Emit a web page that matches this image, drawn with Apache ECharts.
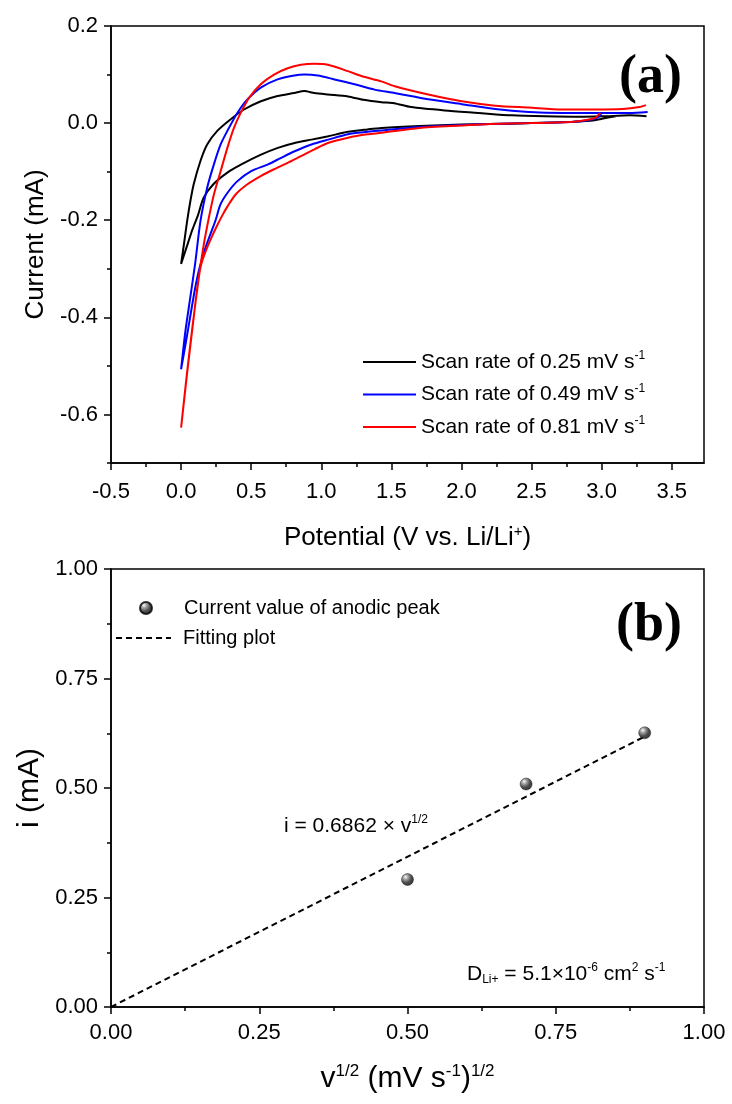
<!DOCTYPE html>
<html>
<head>
<meta charset="utf-8">
<script src="https://cdn.jsdelivr.net/npm/echarts@6/dist/echarts.min.js"></script>
<style>
  html, body { margin: 0; padding: 0; background: #fff; }
  #chart { width: 732px; height: 1104px; }
</style>
</head>
<body>
<div id="chart"></div>
<script>
// ---------- (a) cyclic voltammetry data (potential V, current mA) ----------
const rateLabels = ['0.25', '0.49', '0.81'];
const rateColors = ['#000000', '#0000ff', '#ff0000'];

const potential025 = [3.10, 3.02, 2.95, 2.80, 2.50, 2.20, 2.00, 1.70, 1.43, 1.33, 1.19, 1.05, 0.93, 0.81, 0.69, 0.57, 0.43, 0.33, 0.23, 0.16, 0.12, 0.08, 0.04, 0.00,
  0.02, 0.043, 0.066, 0.09, 0.138, 0.186, 0.258, 0.354, 0.449, 0.569, 0.688, 0.807, 0.878, 0.95, 1.046, 1.19, 1.30, 1.43, 1.52, 1.64, 1.88, 2.12, 2.36, 2.60, 2.84, 3.01, 3.20, 3.32];
const current025 = [0.014, 0.010, 0.006, 0.003, 0.000, -0.002, -0.003, -0.006, -0.010, -0.013, -0.018, -0.027, -0.034, -0.041, -0.051, -0.065, -0.085, -0.102, -0.126, -0.154, -0.190, -0.220, -0.255, -0.290,
  -0.250, -0.202, -0.161, -0.126, -0.078, -0.044, -0.016, 0.008, 0.028, 0.045, 0.056, 0.062, 0.066, 0.062, 0.059, 0.055, 0.048, 0.043, 0.041, 0.033, 0.026, 0.021, 0.016, 0.014, 0.013, 0.014, 0.016, 0.014];

const potential049 = [3.00, 2.96, 2.90, 2.80, 2.50, 2.20, 2.00, 1.70, 1.43, 1.33, 1.19, 1.05, 0.93, 0.81, 0.71, 0.62, 0.50, 0.40, 0.33, 0.28, 0.246, 0.21, 0.17, 0.13, 0.10, 0.07, 0.035, 0.00,
  0.03, 0.065, 0.10, 0.138, 0.186, 0.234, 0.282, 0.33, 0.401, 0.473, 0.568, 0.688, 0.807, 0.879, 0.975, 1.094, 1.237, 1.38, 1.524, 1.763, 2.002, 2.241, 2.48, 2.719, 2.958, 3.197, 3.328];
const current049 = [0.018, 0.010, 0.006, 0.003, 0.000, -0.002, -0.004, -0.008, -0.015, -0.018, -0.023, -0.034, -0.044, -0.058, -0.072, -0.085, -0.099, -0.120, -0.144, -0.168, -0.200, -0.228, -0.260, -0.300, -0.340, -0.390, -0.450, -0.507,
  -0.430, -0.360, -0.290, -0.202, -0.133, -0.085, -0.044, -0.016, 0.021, 0.049, 0.073, 0.090, 0.098, 0.100, 0.098, 0.090, 0.080, 0.069, 0.062, 0.049, 0.039, 0.029, 0.023, 0.021, 0.021, 0.021, 0.023];

const potential081 = [2.99, 2.96, 2.90, 2.80, 2.50, 2.20, 2.00, 1.70, 1.43, 1.33, 1.19, 1.047, 0.951, 0.855, 0.76, 0.663, 0.568, 0.473, 0.389, 0.33, 0.294, 0.25, 0.21, 0.17, 0.14, 0.115, 0.09, 0.045, 0.00,
  0.04, 0.085, 0.126, 0.162, 0.198, 0.234, 0.282, 0.33, 0.377, 0.425, 0.485, 0.568, 0.663, 0.76, 0.855, 0.951, 1.047, 1.19, 1.285, 1.428, 1.524, 1.763, 2.002, 2.241, 2.48, 2.719, 2.958, 3.149, 3.269, 3.316];
const current081 = [0.021, 0.012, 0.007, 0.003, 0.000, -0.002, -0.005, -0.010, -0.020, -0.023, -0.030, -0.041, -0.054, -0.068, -0.082, -0.095, -0.109, -0.126, -0.147, -0.172, -0.190, -0.215, -0.240, -0.268, -0.295, -0.340, -0.400, -0.510, -0.627,
  -0.520, -0.410, -0.319, -0.250, -0.195, -0.147, -0.099, -0.051, -0.010, 0.021, 0.052, 0.080, 0.100, 0.113, 0.120, 0.122, 0.120, 0.107, 0.097, 0.086, 0.076, 0.059, 0.045, 0.036, 0.032, 0.028, 0.028, 0.029, 0.033, 0.037];

const cvPotentials = [potential025, potential049, potential081];
const cvCurrents = [current025, current049, current081];

// axis tick values for (a)
const aXMajor = [-0.5, 0.0, 0.5, 1.0, 1.5, 2.0, 2.5, 3.0, 3.5];
const aXMinor = [-0.25, 0.25, 0.75, 1.25, 1.75, 2.25, 2.75, 3.25];
const aYMajor = [-0.6, -0.4, -0.2, 0.0, 0.2];
const aYMinor = [-0.7, -0.5, -0.3, -0.1, 0.1];

// ---------- (b) anodic peak current vs sqrt(scan rate) ----------
const sqrtRate = [0.5, 0.7, 0.9];
const peakCurrent = [0.291, 0.509, 0.626];
const fitX = [0.0, 0.9];
const fitY = [0.0, 0.6176];

const FONT = '"Liberation Sans", Arial, sans-serif';

function zip(a, b) { return a.map((v, i) => [v, b[i]]); }

const cvNames = rateLabels.map(r => 'Scan rate of ' + r + ' mV s-1');

const cvSeries = cvNames.map((name, i) => ({
  name: name,
  type: 'line',
  xAxisIndex: 0, yAxisIndex: 0,
  data: zip(cvPotentials[i], cvCurrents[i]),
  showSymbol: false, symbol: 'none',
  smooth: 0.25,
  lineStyle: { color: rateColors[i], width: 2 },
  itemStyle: { color: rateColors[i] },
  z: 3 + i
}));

const sphere = {
  type: 'radial', x: 0.35, y: 0.3, r: 0.75,
  colorStops: [
    { offset: 0, color: '#ffffff' },
    { offset: 0.22, color: '#9a9a9a' },
    { offset: 0.6, color: '#222222' },
    { offset: 1, color: '#000000' }
  ]
};

const supRich = {
  t: { fontSize: 21, fontFamily: FONT, color: '#000', lineHeight: 24 },
  s: { fontSize: 12, fontFamily: FONT, color: '#000', lineHeight: 12, verticalAlign: 'top' },
  b: { fontSize: 12, fontFamily: FONT, color: '#000', lineHeight: 12, verticalAlign: 'bottom' }
};

const solidIcon = 'path://M0,0h53v2h-53z';
const dashIcon = 'path://M0,0h6v2h-6zM10,0h6v2h-6zM20,0h6v2h-6zM30,0h6v2h-6zM40,0h6v2h-6zM50,0h5v2h-5z';

const option = {
  animation: false,
  backgroundColor: '#fff',
  grid: [
    { left: 111, top: 26, width: 593, height: 437, show: true, borderColor: '#000', borderWidth: 1.5, backgroundColor: 'transparent' },
    { left: 111, top: 569, width: 593, height: 438, show: true, borderColor: '#000', borderWidth: 1.5, backgroundColor: 'transparent' }
  ],
  xAxis: [
    {
      type: 'value', gridIndex: 0, position: 'bottom', min: -0.5, max: 3.73,
      axisLine: { show: true, onZero: false, lineStyle: { color: '#000', width: 1.5 } },
      splitLine: { show: false },
      axisTick: { show: true, customValues: aXMajor, length: 7, lineStyle: { color: '#000', width: 1.5 } },
      axisLabel: { customValues: aXMajor, formatter: v => v.toFixed(1), fontSize: 22, fontFamily: FONT, color: '#000', margin: 18 },
      name: '{t|Potential (V vs. Li/Li}{s|+}{t|)}',
      nameLocation: 'middle', nameGap: 61,
      nameTextStyle: { rich: {
        t: { fontSize: 26, fontFamily: FONT, color: '#000', lineHeight: 28 },
        s: { fontSize: 15, fontFamily: FONT, color: '#000', lineHeight: 15, verticalAlign: 'top' }
      } }
    },
    {
      type: 'value', gridIndex: 0, position: 'bottom', min: -0.5, max: 3.73,
      axisLine: { show: false, onZero: false }, splitLine: { show: false },
      axisTick: { show: true, customValues: aXMinor, length: 4, lineStyle: { color: '#000', width: 1.5 } },
      axisLabel: { show: false }
    },
    {
      type: 'value', gridIndex: 1, position: 'bottom', min: 0, max: 1, interval: 0.25,
      axisLine: { show: true, onZero: false, lineStyle: { color: '#000', width: 1.5 } },
      splitLine: { show: false },
      axisTick: { show: true, length: 7, lineStyle: { color: '#000', width: 1.5 } },
      minorTick: { show: true, splitNumber: 2, length: 4, lineStyle: { color: '#000', width: 1.5 } },
      axisLabel: { formatter: v => v.toFixed(2), fontSize: 22, fontFamily: FONT, color: '#000', margin: 15 },
      name: '{t|v}{s|1/2}{t| (mV s}{s|-1}{t|)}{s|1/2}',
      nameLocation: 'middle', nameGap: 56,
      nameTextStyle: { rich: {
        t: { fontSize: 30, fontFamily: FONT, color: '#000', lineHeight: 32 },
        s: { fontSize: 17, fontFamily: FONT, color: '#000', lineHeight: 16, verticalAlign: 'top' }
      } }
    }
  ],
  yAxis: [
    {
      type: 'value', gridIndex: 0, position: 'left', min: -0.7, max: 0.2,
      axisLine: { show: true, onZero: false, lineStyle: { color: '#000', width: 1.5 } },
      splitLine: { show: false },
      axisTick: { show: true, customValues: aYMajor, length: 7, lineStyle: { color: '#000', width: 1.5 } },
      axisLabel: { customValues: aYMajor, formatter: v => v.toFixed(1), fontSize: 22, fontFamily: FONT, color: '#000', margin: 13 },
      name: 'Current (mA)', nameLocation: 'middle', nameRotate: 90, nameGap: 62,
      nameTextStyle: { fontSize: 26, fontFamily: FONT, color: '#000' }
    },
    {
      type: 'value', gridIndex: 0, position: 'left', min: -0.7, max: 0.2,
      axisLine: { show: false, onZero: false }, splitLine: { show: false },
      axisTick: { show: true, customValues: aYMinor, length: 4, lineStyle: { color: '#000', width: 1.5 } },
      axisLabel: { show: false }
    },
    {
      type: 'value', gridIndex: 1, position: 'left', min: 0, max: 1, interval: 0.25,
      axisLine: { show: true, onZero: false, lineStyle: { color: '#000', width: 1.5 } },
      splitLine: { show: false },
      axisTick: { show: true, length: 7, lineStyle: { color: '#000', width: 1.5 } },
      minorTick: { show: true, splitNumber: 2, length: 4, lineStyle: { color: '#000', width: 1.5 } },
      axisLabel: { formatter: v => v.toFixed(2), fontSize: 22, fontFamily: FONT, color: '#000', margin: 13 },
      name: 'i (mA)', nameLocation: 'middle', nameRotate: 90, nameGap: 60,
      nameTextStyle: { fontSize: 30, fontFamily: FONT, color: '#000' }
    }
  ],
  legend: [
    {
      data: cvNames.map(n => ({ name: n, icon: solidIcon })),
      orient: 'vertical', left: 363, top: 350, padding: 0,
      itemWidth: 53, itemHeight: 14, itemGap: 10,
      formatter: name => '{t|' + name.replace(' s-1', ' s') + '}{s|-1}',
      textStyle: { rich: supRich }
    },
    {
      data: [{ name: 'Current value of anodic peak', icon: 'circle' }],
      orient: 'vertical', left: 139, top: 598, padding: 0,
      itemWidth: 66, itemHeight: 12,
      textStyle: { fontSize: 20, fontFamily: FONT, color: '#000' }
    },
    {
      data: [{ name: 'Fitting plot', icon: dashIcon }],
      orient: 'vertical', left: 116, top: 628, padding: 0,
      itemWidth: 55, itemHeight: 12,
      textStyle: { fontSize: 20, fontFamily: FONT, color: '#000', padding: [0, 0, 0, 7] }
    }
  ],
  series: cvSeries.concat([
    {
      name: 'Fitting plot', type: 'line', xAxisIndex: 2, yAxisIndex: 2,
      data: zip(fitX, fitY), showSymbol: false, symbol: 'none',
      lineStyle: { color: '#000', width: 2, type: [6, 4] },
      itemStyle: { color: '#000' }, z: 2
    },
    {
      name: 'Current value of anodic peak', type: 'scatter', xAxisIndex: 2, yAxisIndex: 2,
      data: zip(sqrtRate, peakCurrent), symbol: 'circle', symbolSize: 12,
      itemStyle: { color: sphere, borderColor: '#000', borderWidth: 0.5 }, z: 5
    }
  ]),
  graphic: [
    { type: 'text', x: 682, y: 78, style: { text: '(a)', font: 'bold 54px "Liberation Serif", "Times New Roman", serif', fill: '#000', align: 'right', verticalAlign: 'middle' } },
    { type: 'text', x: 682, y: 626, style: { text: '(b)', font: 'bold 54px "Liberation Serif", "Times New Roman", serif', fill: '#000', align: 'right', verticalAlign: 'middle' } },
    { type: 'text', x: 284, y: 826, style: { text: '{t|i = 0.6862 × v}{s|1/2}', rich: supRich, align: 'left', verticalAlign: 'middle' } },
    { type: 'text', x: 467, y: 974, style: { text: '{t|D}{b|Li+}{t| = 5.1×10}{s|-6}{t| cm}{s|2}{t| s}{s|-1}', rich: supRich, align: 'left', verticalAlign: 'middle' } }
  ]
};

const chart = echarts.init(document.getElementById('chart'), null, { renderer: 'canvas' });
chart.setOption(option);
</script>
</body>
</html>
